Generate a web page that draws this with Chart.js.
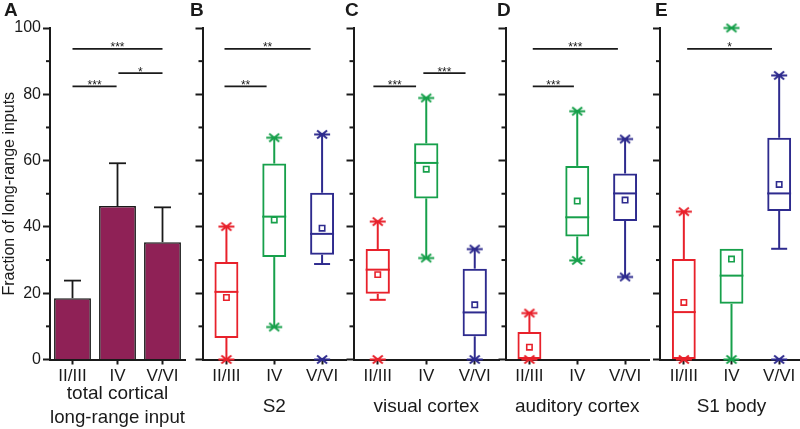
<!DOCTYPE html>
<html>
<head>
<meta charset="utf-8">
<script src="https://cdn.jsdelivr.net/npm/chart.js@4.4.1/dist/chart.umd.min.js"></script>
<style>
  html, body { margin: 0; padding: 0; background: #fff; overflow: hidden; }
  #wrap { position: relative; width: 800px; height: 429px; overflow: hidden; }
  #wrap canvas { position: absolute; top: 0; }
</style>
</head>
<body>
<div id="wrap"></div>
<script>
// ---------- data ----------
const layers = ["II/III", "IV", "V/VI"];
const yMajor = [0, 20, 40, 60, 80, 100];
const yMinor = [10, 30, 50, 70, 90];

// A: total cortical long-range input (mean, upper error)
const totalMean = [18.5, 46.3, 35.4];
const totalErr = [5.3, 12.9, 10.5];

// box rows: [whisker low, q1, median, q3, whisker high]
const s2Box = [[0, 6.5, 20.4, 29.4, 40.1], [9.8, 30.9, 43.1, 59.1, 66.9], [28.8, 31.6, 37.9, 50.3, 67.9]];
const s2Mean = [18.7, 42.1, 39.6];
const s2Min = [0, 9.8, 0];
const s2Max = [40.1, 66.9, 67.9];

const visualBox = [[18.0, 19.8, 27.1, 33.3, 41.6], [30.6, 48.6, 59.3, 65.2, 78.9], [0, 7.0, 14.2, 27.4, 33.3]];
const visualMean = [25.6, 57.4, 16.5];
const visualMin = [0, 30.6, 0];
const visualMax = [41.6, 78.9, 33.3];

const auditoryBox = [[0, 0, 0, 8.3, 14.0], [29.9, 37.1, 42.9, 58.4, 74.9], [24.9, 41.8, 50.1, 56.1, 66.5]];
const auditoryMean = [3.7, 47.8, 48.1];
const auditoryMin = [0, 29.9, 24.9];
const auditoryMax = [14.0, 74.9, 66.5];

const s1Box = [[0, 0, 14.3, 30.3, 44.6], [0, 16.8, 25.3, 33.4, 33.4], [33.4, 44.8, 50.1, 66.9, 85.7]];
const s1Mean = [17.2, 30.3, 52.8];
const s1Min = [0, 0, 0];
const s1Max = [44.6, 100, 85.7];

// significance bars: from / to in category units, height in %, label
const sigTotal = [[0, 2, 93.7, "***"], [0, 0.98, 82.4, "***"], [1.02, 2, 86.4, "*"]];
const sigS2 = [[-0.04, 1.76, 93.7, "**"], [-0.04, 0.84, 82.4, "**"]];
const sigVisual = [[-0.09, 0.79, 82.4, "***"], [0.94, 1.81, 86.4, "***"]];
const sigAuditory = [[0.07, 1.85, 93.7, "***"], [0.07, 0.93, 82.4, "***"]];
const sigS1 = [[0.07, 1.85, 93.7, "*"]];

// ---------- style ----------
const ink = "#1a1a1a";
const family = "'Liberation Sans', Arial, Helvetica, sans-serif";
const layerColors = ["#e8212b", "#17a04b", "#2e2b8e"];
const barColor = "#8f2156";
Chart.defaults.font.family = family;

function starImage(color) {
  const c = document.createElement("canvas");
  c.width = 18; c.height = 11;
  const g = c.getContext("2d");
  g.strokeStyle = color; g.lineWidth = 2;
  g.beginPath();
  g.moveTo(1, 5.5); g.lineTo(17, 5.5);
  g.moveTo(4, 1.5); g.lineTo(14, 9.5);
  g.moveTo(4, 9.5); g.lineTo(14, 1.5);
  g.stroke();
  return c;
}
const stars = layerColors.map(starImage);

const panels = [
  { letter: "A", letterX: 4, title: ["total cortical", "long-range input"], left: 0, width: 190, axisX: 50, areaW: 135, sig: sigTotal },
  { letter: "B", letterX: 190, title: "S2", left: 185, width: 170, axisX: 202.5, areaW: 150, box: s2Box, mean: s2Mean, min: s2Min, max: s2Max, sig: sigS2 },
  { letter: "C", letterX: 345, title: "visual cortex", left: 336, width: 172, axisX: 353.5, areaW: 150, box: visualBox, mean: visualMean, min: visualMin, max: visualMax, sig: sigVisual },
  { letter: "D", letterX: 497, title: "auditory cortex", left: 488, width: 170, axisX: 505.5, areaW: 150, box: auditoryBox, mean: auditoryMean, min: auditoryMin, max: auditoryMax, sig: sigAuditory },
  { letter: "E", letterX: 655, title: "S1 body", left: 642, width: 170, axisX: 660, areaW: 150, box: s1Box, mean: s1Mean, min: s1Min, max: s1Max, sig: sigS1 }
];

function line(ctx, x1, y1, x2, y2) {
  ctx.beginPath(); ctx.moveTo(x1, y1); ctx.lineTo(x2, y2); ctx.stroke();
}

function panelPlugin(p) {
  return {
    id: "panelDraw",
    beforeDatasetsDraw(chart) {
      if (!p.box) return;
      const ctx = chart.ctx, xs = chart.scales.x, ys = chart.scales.y;
      const bars = chart.getDatasetMeta(2).data;
      ctx.save();
      ctx.lineWidth = 2;
      p.box.forEach((r, i) => {
        const cx = xs.getPixelForValue(i);
        const half = bars[i].width / 2;
        ctx.strokeStyle = layerColors[i];
        line(ctx, cx, ys.getPixelForValue(r[3]), cx, ys.getPixelForValue(r[4]));
        line(ctx, cx, ys.getPixelForValue(r[1]), cx, ys.getPixelForValue(r[0]));
        if (r[0] !== r[1] && r[0] !== p.min[i]) line(ctx, cx - 8, ys.getPixelForValue(r[0]), cx + 8, ys.getPixelForValue(r[0]));
        if (r[4] !== r[3] && r[4] !== p.max[i]) line(ctx, cx - 8, ys.getPixelForValue(r[4]), cx + 8, ys.getPixelForValue(r[4]));
        if (r[2] > 0) line(ctx, cx - half, ys.getPixelForValue(r[2]), cx + half, ys.getPixelForValue(r[2]));
      });
      ctx.restore();
    },
    afterDatasetsDraw(chart) {
      const ctx = chart.ctx, xs = chart.scales.x, ys = chart.scales.y;
      ctx.save();
      ctx.strokeStyle = ink; ctx.fillStyle = ink;
      // error bars (panel A)
      if (!p.box) {
        ctx.lineWidth = 1.8;
        totalMean.forEach((m, i) => {
          const cx = xs.getPixelForValue(i);
          const y0 = ys.getPixelForValue(m), y1 = ys.getPixelForValue(m + totalErr[i]);
          line(ctx, cx, y0, cx, y1);
          line(ctx, cx - 8.5, y1, cx + 8.5, y1);
        });
      }
      // significance bars
      ctx.lineWidth = 1.6;
      ctx.font = "12px " + family;
      ctx.textAlign = "center"; ctx.textBaseline = "alphabetic";
      p.sig.forEach(([a, b, v, lab]) => {
        const x1 = xs.getPixelForValue(a), x2 = xs.getPixelForValue(b), yy = ys.getPixelForValue(v);
        line(ctx, x1, yy, x2, yy);
        ctx.fillText(lab, (x1 + x2) / 2, yy + 2.5);
      });
      // minor y ticks
      ctx.lineWidth = 2;
      const ax = chart.chartArea.left;
      yMinor.forEach(v => line(ctx, ax - 4, ys.getPixelForValue(v), ax, ys.getPixelForValue(v)));
      // panel letter
      ctx.font = "bold 19px " + family;
      ctx.textAlign = "left"; ctx.textBaseline = "middle";
      ctx.fillText(p.letter, p.letterX - p.left, 11);
      ctx.restore();
    }
  };
}

const wrap = document.getElementById("wrap");

panels.forEach(p => {
  const isA = !p.box;
  const cv = document.createElement("canvas");
  cv.width = p.width; cv.height = 429;
  cv.style.left = p.left + "px";
  cv.style.width = p.width + "px";
  cv.style.height = "429px";
  wrap.appendChild(cv);

  let datasets;
  if (isA) {
    datasets = [{
      type: "bar",
      data: totalMean,
      backgroundColor: barColor,
      borderColor: ink,
      borderWidth: 1.6,
      barPercentage: 0.82,
      categoryPercentage: 1
    }];
  } else {
    datasets = [
      { type: "line", data: p.max, showLine: false, pointStyle: stars, pointRadius: 8, clip: false, order: 0 },
      { type: "line", data: p.min, showLine: false, pointStyle: stars, pointRadius: 8, clip: false, order: 0 },
      { type: "bar", data: p.box.map(r => [r[1], r[3]]), backgroundColor: "rgba(0,0,0,0)", borderColor: layerColors,
        borderWidth: 2, borderSkipped: false, barPercentage: 0.5, categoryPercentage: 1, order: 2 },
      { type: "line", data: p.mean, showLine: false, pointStyle: "rect", pointRadius: 3.8, pointBorderWidth: 1.6,
        pointBackgroundColor: "#fff", pointBorderColor: layerColors, clip: false, order: 1 }
    ];
  }

  new Chart(cv, {
    type: "bar",
    data: { labels: layers, datasets: datasets },
    options: {
      responsive: false,
      animation: false,
      devicePixelRatio: 1,
      layout: { padding: { top: 28, right: p.width - (p.axisX - p.left) - p.areaW, left: 0, bottom: 0 } },
      plugins: { legend: { display: false }, tooltip: { enabled: false } },
      scales: {
        x: {
          offset: true,
          afterFit: s => { s.height = 69.5; },
          border: { display: true, color: ink, width: 2 },
          grid: { display: true, drawOnChartArea: false, drawTicks: true, tickLength: 5, tickWidth: 2, tickColor: ink, offset: false },
          ticks: { padding: 2, color: ink, font: { size: 17 }, maxRotation: 0, autoSkip: false },
          title: { display: true, text: p.title, color: ink, font: { size: 19, lineHeight: 1.22 },
                   padding: { top: 0, bottom: isA ? 0 : 10.4 } }
        },
        y: {
          min: 0, max: 100,
          afterFit: s => { s.width = p.axisX - p.left; },
          border: { display: true, color: ink, width: 2 },
          grid: { display: true, drawOnChartArea: false, drawTicks: true, tickLength: 7, tickWidth: 2,
                  tickColor: c => (c.tick && c.tick.value % 20 === 0) ? ink : "rgba(0,0,0,0)" },
          ticks: { display: isA, stepSize: 10, padding: 2, color: ink, font: { size: 16 },
                   callback: v => yMajor.includes(v) ? v : "" },
          title: { display: isA, text: "Fraction of long-range inputs", color: ink, font: { size: 16 }, padding: 0 }
        }
      }
    },
    plugins: [panelPlugin(p)]
  });
});
</script>
</body>
</html>
